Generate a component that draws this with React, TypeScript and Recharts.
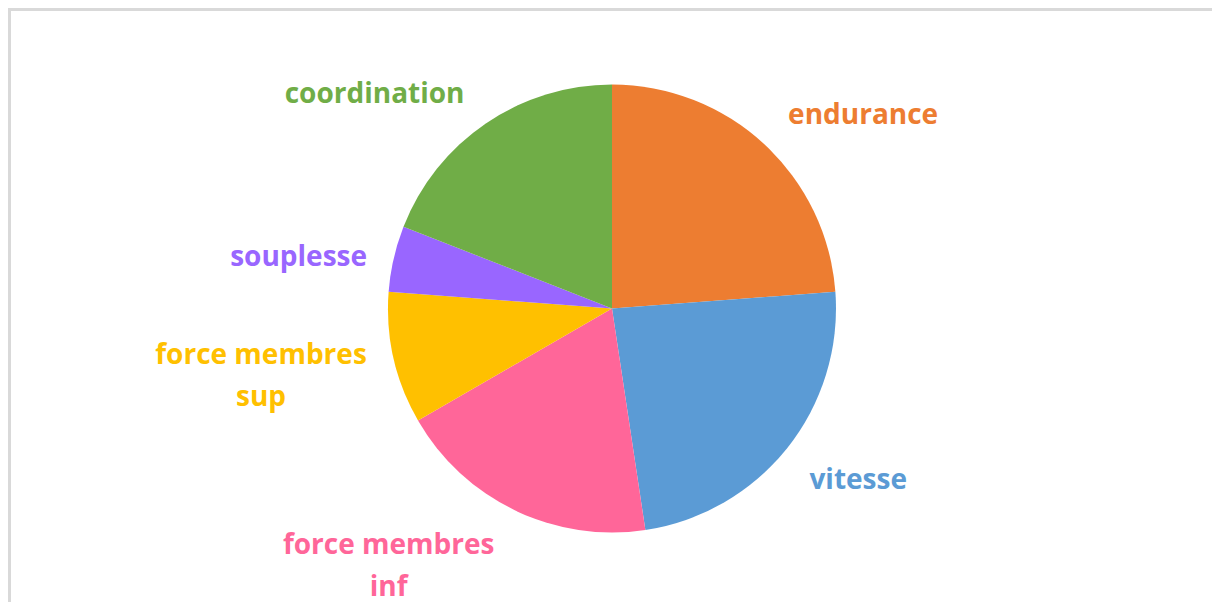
import React from 'react';
import { PieChart, Pie, Cell } from 'recharts';

// qualités physiques (parts du camembert)
const categories = ['endurance', 'vitesse', 'force membres inf', 'force membres sup', 'souplesse', 'coordination'];
const values = [25, 25, 20, 10, 5, 20];
const labelLines = [['endurance'], ['vitesse'], ['force membres', 'inf'], ['force membres', 'sup'], ['souplesse'], ['coordination']];
const colors = ['#ED7D31', '#5B9BD5', '#FF6699', '#FFC000', '#9966FF', '#70AD47'];

const data = categories.map((name, i) => ({ name, value: values[i], lines: labelLines[i] }));

// best-fit style placement: nudge angle / radius per label
const labelNudge: Record<string, { da: number; r: number }> = {
  endurance: { da: -9.3, r: 318 },
  vitesse: { da: 4, r: 299 },
  'force membres inf': { da: -15.5, r: 339 },
  'force membres sup': { da: -2.3, r: 357 },
  souplesse: { da: 3.1, r: 318 },
  coordination: { da: 13.4, r: 321 },
};

const RAD = Math.PI / 180;

const renderLabel = (props: any) => {
  const { cx, cy, midAngle, index } = props;
  const d = data[index];
  const n = labelNudge[d.name];
  const a = (midAngle + n.da) * RAD;
  const x = cx + n.r * Math.cos(a);
  const y = cy - n.r * Math.sin(a);
  const lh = 42;
  const top = y - ((d.lines.length - 1) * lh) / 2;
  return (
    <text
      x={x}
      y={top}
      textAnchor="middle"
      dominantBaseline="central"
      fill={colors[index]}
      fontFamily="'Open Sans', 'Noto Sans', sans-serif"
      fontWeight={700}
      fontSize={28}
    >
      {d.lines.map((l: string, i: number) => (
        <tspan key={i} x={x} y={top + i * lh}>{l}</tspan>
      ))}
    </text>
  );
};

export default function App() {
  return (
    <>
      <style>{`body{margin:0;overflow:hidden}`}</style>
      <div
        style={{
          position: 'fixed', left: 8, top: 8, width: 1201, height: 591,
          borderTop: '3px solid #D9D9D9', borderLeft: '3px solid #D9D9D9', background: '#fff',
        }}
      >
        <PieChart width={1201} height={591}>
          <Pie
            data={data}
            dataKey="value"
            nameKey="name"
            cx={596}
            cy={292.5}
            outerRadius={224}
            startAngle={90}
            endAngle={-270}
            stroke="none"
            label={renderLabel}
            labelLine={false}
            isAnimationActive={false}
          >
            {data.map((d, i) => (
              <Cell key={d.name} fill={colors[i]} />
            ))}
          </Pie>
        </PieChart>
      </div>
    </>
  );
}
